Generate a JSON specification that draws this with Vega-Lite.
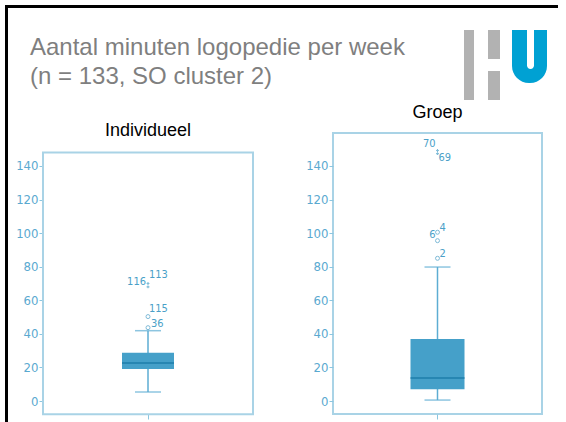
{
  "$schema": "https://vega.github.io/schema/vega-lite/v6.json",
  "padding": {"left": 5, "top": 5, "right": 0, "bottom": 0},
  "background": "white",
  "spacing": 0,
  "config": {"font": "Liberation Sans", "view": {"stroke": null}},
  "datasets": {
    "boxen": [
      {"groep": "Individueel", "min": 5.4, "q1": 19.1, "med": 22.7, "q3": 28.7, "max": 41.9},
      {"groep": "Groep", "min": 0.6, "q1": 7.1, "med": 13.7, "q3": 36.9, "max": 79.8}
    ],
    "kaders": [
      {"groep": "Individueel", "onder": -7.8, "boven": 148}
    ],
    "punten": [
      {"groep": "Individueel", "nr": "36", "minuten": 43.7, "soort": "uitschieter"},
      {"groep": "Individueel", "nr": "115", "minuten": 50.3, "soort": "uitschieter"},
      {"groep": "Individueel", "nr": "116", "minuten": 68, "soort": "extreem"},
      {"groep": "Individueel", "nr": "113", "minuten": 70, "soort": "extreem"},
      {"groep": "Groep", "nr": "2", "minuten": 85, "soort": "uitschieter"},
      {"groep": "Groep", "nr": "6", "minuten": 95.5, "soort": "uitschieter"},
      {"groep": "Groep", "nr": "4", "minuten": 100.5, "soort": "uitschieter"},
      {"groep": "Groep", "nr": "69", "minuten": 147.3, "soort": "extreem"},
      {"groep": "Groep", "nr": "70", "minuten": 149.2, "soort": "extreem"}
    ],
    "logo": [
      {"deel": "balk", "x": 0, "x2": 10, "y": 22, "y2": 92},
      {"deel": "balk", "x": 24, "x2": 36, "y": 22, "y2": 51},
      {"deel": "balk", "x": 24, "x2": 36, "y": 63, "y2": 92},
      {"deel": "U", "x": 48, "x2": 83, "y": 22, "y2": 75},
      {"deel": "U-binnen", "x": 63, "x2": 70, "y": 22, "y2": 61}
    ]
  },
  "vconcat": [
    {"width": 553, "height": 3, "view": {"fill": "#000000", "stroke": null}, "data": {"values": []}, "mark": {"type": "point", "opacity": 0}, "encoding": {}},
    {
      "spacing": 0,
      "hconcat": [
        {"width": 3, "height": 420, "view": {"fill": "#000000", "stroke": null}, "data": {"values": []}, "mark": {"type": "point", "opacity": 0}, "encoding": {}},
        {
          "spacing": 0,
          "vconcat": [
            {
              "spacing": 16,
              "hconcat": [
                {
                  "width": 405, "height": 1,
                  "title": {"text": ["Aantal minuten logopedie per week", "(n = 133, SO cluster 2)"], "orient": "bottom", "anchor": "start", "fontSize": 24, "fontWeight": "normal", "color": "#7f7f7f", "font": "Liberation Sans", "lineHeight": 29, "dx": -13, "offset": 27},
                  "data": {"values": []},
                  "mark": {"type": "point", "opacity": 0},
                  "encoding": {}
                },
                {
                  "width": 83, "height": 95,
                  "data": {"name": "logo"},
                  "encoding": {
                    "x": {"field": "x", "type": "quantitative", "scale": {"domain": [0, 83], "nice": false, "zero": false}, "axis": null},
                    "x2": {"field": "x2"},
                    "y": {"field": "y", "type": "quantitative", "scale": {"domain": [0, 95], "reverse": true, "nice": false}, "axis": null},
                    "y2": {"field": "y2"}
                  },
                  "layer": [
                    {"transform": [{"filter": "datum.deel === 'balk'"}], "mark": {"type": "rect", "color": "#b2b2b2"}},
                    {"transform": [{"filter": "datum.deel === 'U'"}], "mark": {"type": "rect", "color": "#00a1d3", "cornerRadiusBottomLeft": 17, "cornerRadiusBottomRight": 17}},
                    {"transform": [{"filter": "datum.deel === 'U-binnen'"}], "mark": {"type": "rect", "color": "#ffffff", "cornerRadiusBottomLeft": 3.5, "cornerRadiusBottomRight": 3.5}}
                  ]
                }
              ]
            },
            {
              "spacing": 50,
              "hconcat": [
                {
                  "width": 210, "height": 281,
                  "title": {"text": "Individueel", "fontSize": 18, "fontWeight": "normal", "color": "#000000", "font": "Liberation Sans", "offset": -7},
                  "encoding": {
                    "x": {"field": "groep", "type": "nominal", "scale": {"domain": ["Individueel"], "paddingInner": 0, "paddingOuter": 0}, "axis": {"labels": false, "domain": false, "ticks": true, "tickSize": 5, "tickColor": "#8cc6e0", "title": null, "grid": false, "bandPosition": 0.5}}
                  },
                  "layer": [
                    {"data": {"name": "kaders"}, "mark": {"type": "bar", "fillOpacity": 0, "stroke": "#a9d3e6", "strokeWidth": 2},
                     "encoding": {"y": {"field": "onder", "type": "quantitative", "scale": {"domain": [-7.7, 159.6], "nice": false, "zero": false}, "axis": {"values": [0, 20, 40, 60, 80, 100, 120, 140], "domain": false, "grid": false, "tickSize": 4, "tickColor": "#8cc6e0", "labelColor": "#5aa9d0", "labelFont": "'Liberation Sans Narrow', 'DejaVu Sans Condensed', Roboto, sans-serif", "labelFontSize": 13, "labelPadding": 1, "labelOverlap": false, "title": null, "minExtent": 35, "maxExtent": 35}}, "y2": {"field": "boven"}}},
                    {"data": {"name": "boxen"}, "transform": [{"filter": "datum.groep === 'Individueel'"}], "mark": {"type": "rule", "color": "#5dadd3", "strokeWidth": 1.5},
                     "encoding": {"y": {"field": "min", "type": "quantitative"}, "y2": {"field": "max"}}},
                    {"data": {"name": "boxen"}, "transform": [{"filter": "datum.groep === 'Individueel'"}], "mark": {"type": "tick", "size": 26, "thickness": 1.5, "color": "#5dadd3"},
                     "encoding": {"y": {"field": "min", "type": "quantitative"}}},
                    {"data": {"name": "boxen"}, "transform": [{"filter": "datum.groep === 'Individueel'"}], "mark": {"type": "tick", "size": 26, "thickness": 1.5, "color": "#5dadd3"},
                     "encoding": {"y": {"field": "max", "type": "quantitative"}}},
                    {"data": {"name": "boxen"}, "transform": [{"filter": "datum.groep === 'Individueel'"}], "mark": {"type": "bar", "width": 52, "color": "#45a0c9"},
                     "encoding": {"y": {"field": "q1", "type": "quantitative"}, "y2": {"field": "q3"}}},
                    {"data": {"name": "boxen"}, "transform": [{"filter": "datum.groep === 'Individueel'"}], "mark": {"type": "tick", "size": 52, "thickness": 2, "color": "#1b7aa8"},
                     "encoding": {"y": {"field": "med", "type": "quantitative"}}},
                    {"data": {"name": "punten"}, "transform": [{"filter": "datum.groep === 'Individueel' && datum.soort === 'uitschieter'"}], "mark": {"type": "point", "shape": "circle", "filled": false, "size": 16, "color": "#4a9fc8", "strokeWidth": 1},
                     "encoding": {"y": {"field": "minuten", "type": "quantitative"}}},
                    {"data": {"name": "punten"}, "transform": [{"filter": "datum.groep === 'Individueel' && datum.soort === 'extreem'"}], "mark": {"type": "point", "shape": "cross", "filled": true, "size": 8, "color": "#4a9fc8"},
                     "encoding": {"y": {"field": "minuten", "type": "quantitative"}}},
                    {"data": {"name": "punten"}, "transform": [{"filter": "datum.groep === 'Individueel' && indexof(['115','113'], datum.nr) >= 0"}], "mark": {"type": "text", "font": "'Liberation Sans Narrow', 'DejaVu Sans Condensed', Roboto, sans-serif", "fontSize": 11, "color": "#4a9fc8", "align": "left", "dx": 1, "dy": -8},
                     "encoding": {"y": {"field": "minuten", "type": "quantitative"}, "text": {"field": "nr"}}},
                    {"data": {"name": "punten"}, "transform": [{"filter": "datum.groep === 'Individueel' && datum.nr === '36'"}], "mark": {"type": "text", "font": "'Liberation Sans Narrow', 'DejaVu Sans Condensed', Roboto, sans-serif", "fontSize": 11, "color": "#4a9fc8", "align": "left", "dx": 3, "dy": -4},
                     "encoding": {"y": {"field": "minuten", "type": "quantitative"}, "text": {"field": "nr"}}},
                    {"data": {"name": "punten"}, "transform": [{"filter": "datum.groep === 'Individueel' && datum.nr === '116'"}], "mark": {"type": "text", "font": "'Liberation Sans Narrow', 'DejaVu Sans Condensed', Roboto, sans-serif", "fontSize": 11, "color": "#4a9fc8", "align": "right", "dx": -2, "dy": -5},
                     "encoding": {"y": {"field": "minuten", "type": "quantitative"}, "text": {"field": "nr"}}}
                  ]
                },
                {
                  "width": 209, "height": 281,
                  "view": {"stroke": "#a9d3e6", "strokeWidth": 2},
                  "title": {"text": "Groep", "fontSize": 18, "fontWeight": "normal", "color": "#000000", "font": "Liberation Sans", "offset": 11},
                  "encoding": {
                    "x": {"field": "groep", "type": "nominal", "scale": {"domain": ["Groep"], "paddingInner": 0, "paddingOuter": 0}, "axis": {"labels": false, "domain": false, "ticks": true, "tickSize": 5, "tickColor": "#8cc6e0", "title": null, "grid": false, "bandPosition": 0.5}}
                  },
                  "layer": [
                    {"data": {"name": "boxen"}, "transform": [{"filter": "datum.groep === 'Groep'"}], "mark": {"type": "rule", "color": "#5dadd3", "strokeWidth": 1.5},
                     "encoding": {"y": {"field": "min", "type": "quantitative", "scale": {"domain": [-7.7, 159.6], "nice": false, "zero": false}, "axis": {"values": [0, 20, 40, 60, 80, 100, 120, 140], "domain": false, "grid": false, "tickSize": 4, "tickColor": "#8cc6e0", "labelColor": "#5aa9d0", "labelFont": "'Liberation Sans Narrow', 'DejaVu Sans Condensed', Roboto, sans-serif", "labelFontSize": 13, "labelPadding": 1, "labelOverlap": false, "title": null, "minExtent": 22, "maxExtent": 22}}, "y2": {"field": "max"}}},
                    {"data": {"name": "boxen"}, "transform": [{"filter": "datum.groep === 'Groep'"}], "mark": {"type": "tick", "size": 26, "thickness": 1.5, "color": "#5dadd3"},
                     "encoding": {"y": {"field": "min", "type": "quantitative"}}},
                    {"data": {"name": "boxen"}, "transform": [{"filter": "datum.groep === 'Groep'"}], "mark": {"type": "tick", "size": 26, "thickness": 1.5, "color": "#5dadd3"},
                     "encoding": {"y": {"field": "max", "type": "quantitative"}}},
                    {"data": {"name": "boxen"}, "transform": [{"filter": "datum.groep === 'Groep'"}], "mark": {"type": "bar", "width": 54, "color": "#45a0c9"},
                     "encoding": {"y": {"field": "q1", "type": "quantitative"}, "y2": {"field": "q3"}}},
                    {"data": {"name": "boxen"}, "transform": [{"filter": "datum.groep === 'Groep'"}], "mark": {"type": "tick", "size": 54, "thickness": 2, "color": "#1b7aa8"},
                     "encoding": {"y": {"field": "med", "type": "quantitative"}}},
                    {"data": {"name": "punten"}, "transform": [{"filter": "datum.groep === 'Groep' && datum.soort === 'uitschieter'"}], "mark": {"type": "point", "shape": "circle", "filled": false, "size": 16, "color": "#4a9fc8", "strokeWidth": 1},
                     "encoding": {"y": {"field": "minuten", "type": "quantitative"}}},
                    {"data": {"name": "punten"}, "transform": [{"filter": "datum.groep === 'Groep' && datum.soort === 'extreem'"}], "mark": {"type": "point", "shape": "cross", "filled": true, "size": 8, "color": "#4a9fc8"},
                     "encoding": {"y": {"field": "minuten", "type": "quantitative"}}},
                    {"data": {"name": "punten"}, "transform": [{"filter": "datum.groep === 'Groep' && indexof(['4','2'], datum.nr) >= 0"}], "mark": {"type": "text", "font": "'Liberation Sans Narrow', 'DejaVu Sans Condensed', Roboto, sans-serif", "fontSize": 11, "color": "#4a9fc8", "align": "left", "dx": 2, "dy": -4},
                     "encoding": {"y": {"field": "minuten", "type": "quantitative"}, "text": {"field": "nr"}}},
                    {"data": {"name": "punten"}, "transform": [{"filter": "datum.groep === 'Groep' && indexof(['70','6'], datum.nr) >= 0"}], "mark": {"type": "text", "font": "'Liberation Sans Narrow', 'DejaVu Sans Condensed', Roboto, sans-serif", "fontSize": 11, "color": "#4a9fc8", "align": "right", "dx": -2, "dy": -6},
                     "encoding": {"y": {"field": "minuten", "type": "quantitative"}, "text": {"field": "nr"}}},
                    {"data": {"name": "punten"}, "transform": [{"filter": "datum.groep === 'Groep' && datum.nr === '69'"}], "mark": {"type": "text", "font": "'Liberation Sans Narrow', 'DejaVu Sans Condensed', Roboto, sans-serif", "fontSize": 11, "color": "#4a9fc8", "align": "left", "dx": 1, "dy": 4},
                     "encoding": {"y": {"field": "minuten", "type": "quantitative"}, "text": {"field": "nr"}}}
                  ]
                }
              ]
            }
          ]
        }
      ]
    }
  ]
}
